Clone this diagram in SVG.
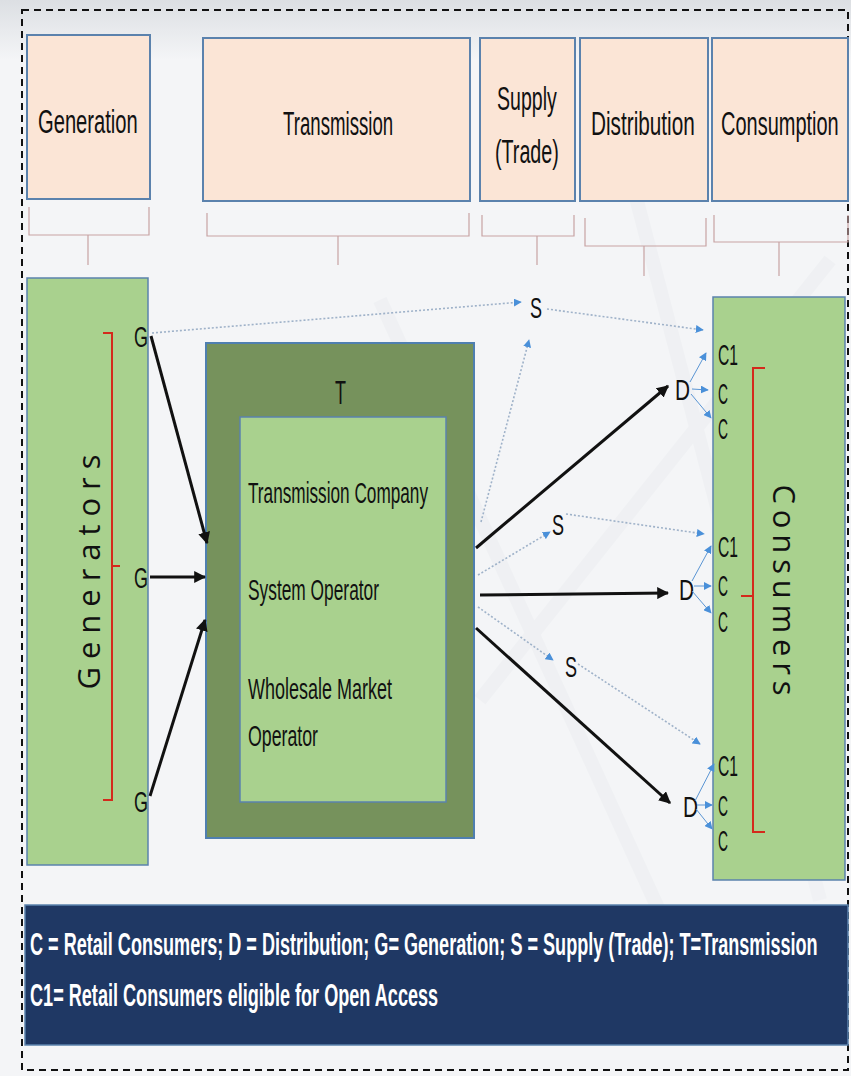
<svg xmlns="http://www.w3.org/2000/svg" width="851" height="1076" viewBox="0 0 851 1076">
<defs>
<marker id="ab" viewBox="0 0 10 10" refX="9" refY="5" markerWidth="4" markerHeight="4" orient="auto" markerUnits="strokeWidth"><path d="M0,0 L10,5 L0,10 z" fill="#111"/></marker>
<marker id="au" viewBox="0 0 10 10" refX="9" refY="5" markerWidth="8" markerHeight="8" orient="auto" markerUnits="userSpaceOnUse"><path d="M0,0 L10,5 L0,10 z" fill="#4a90d9"/></marker>
<linearGradient id="topsh" x1="0" y1="0" x2="0" y2="1"><stop offset="0" stop-color="#dcdfe3"/><stop offset="1" stop-color="#f4f5f7"/></linearGradient>
</defs>
<style>
.hdr{fill:#fbe5d6;stroke:#5b82ad;stroke-width:2}
.grn{fill:#a9d18e;stroke:#5b82ad;stroke-width:1.5}
.dk{fill:#76925c;stroke:#4f7fb0;stroke-width:2}
.brk{fill:none;stroke:#c7a3a3;stroke-width:1.2}
.red{fill:none;stroke:#d42a1c;stroke-width:2}
.t{font-family:"Liberation Sans",Arial,sans-serif;fill:#111}
.h{font-size:34px}
.lbl{font-size:30px}
.blk{fill:none;stroke:#111;stroke-width:3;marker-end:url(#ab)}
.dot{fill:none;stroke:#9fb2c9;stroke-width:1.6;stroke-dasharray:2 2;marker-end:url(#au)}
.thin{fill:none;stroke:#5a95d4;stroke-width:1;marker-end:url(#au)}
.leg{font-family:"Liberation Sans",Arial,sans-serif;font-weight:bold;fill:#fff;font-size:32px}
</style>
<rect width="851" height="1076" fill="#f4f5f7"/>
<rect x="0" y="0" width="851" height="60" fill="url(#topsh)"/>
<g stroke="#eceef1" stroke-width="14" fill="none" opacity="0.6">
<path d="M600,60 L820,900"/><path d="M380,300 L700,1000"/><path d="M480,700 L830,260"/>
</g>
<rect x="22" y="10" width="826" height="1060" fill="none" stroke="#111" stroke-width="2" stroke-dasharray="7 5"/>

<g id="hdr-generation"><rect class="hdr" x="27" y="35" width="123" height="164"/><text class="t h" transform="translate(38,133) scale(0.58,1)" textLength="172" lengthAdjust="spacingAndGlyphs">Generation</text></g>
<g id="hdr-transmission"><rect class="hdr" x="203" y="38" width="267" height="163"/><text class="t h" transform="translate(283,135) scale(0.58,1)" textLength="190" lengthAdjust="spacingAndGlyphs">Transmission</text></g>
<g id="hdr-supply"><rect class="hdr" x="480" y="38" width="95" height="163"/><text class="t h" transform="translate(497,110) scale(0.58,1)" textLength="103" lengthAdjust="spacingAndGlyphs">Supply</text><text class="t h" transform="translate(495,163) scale(0.58,1)" textLength="110" lengthAdjust="spacingAndGlyphs">(Trade)</text></g>
<g id="hdr-distribution"><rect class="hdr" x="580" y="38" width="128" height="163"/><text class="t h" transform="translate(591,135) scale(0.58,1)" textLength="179" lengthAdjust="spacingAndGlyphs">Distribution</text></g>
<g id="hdr-consumption"><rect class="hdr" x="712" y="38" width="136" height="163"/><text class="t h" transform="translate(721,135) scale(0.58,1)" textLength="203" lengthAdjust="spacingAndGlyphs">Consumption</text></g>

<g id="brackets">
<path class="brk" d="M29,207 V235 H149 V207 M88,235 V265"/>
<path class="brk" d="M207,213 V236 H469 V213 M338,236 V265"/>
<path class="brk" d="M482,215 V236 H574 V215 M537,236 V265"/>
<path class="brk" d="M585,218 V246 H706 V218 M644,246 V276" stroke="#c08c8c"/>
<path class="brk" d="M714,215 V242 H848 V215 M779,242 V276"/>
</g>

<g id="generators"><rect class="grn" x="27" y="278" width="121" height="587"/>
<text transform="translate(100,572) rotate(-90)" text-anchor="middle" font-family="'Open Sans',sans-serif" font-size="31" fill="#111" textLength="235" lengthAdjust="spacing">Generators</text>
<path class="red" d="M103,333 H112 V800 H103 M112,566 H120"/>
<text class="t lbl" x="134" y="347" textLength="14" lengthAdjust="spacingAndGlyphs">G</text>
<text class="t lbl" x="134" y="588" textLength="14" lengthAdjust="spacingAndGlyphs">G</text>
<text class="t lbl" x="134" y="812" textLength="14" lengthAdjust="spacingAndGlyphs">G</text>
</g>

<g id="transmission"><rect class="dk" x="206" y="343" width="268" height="495"/>
<text class="t" x="335" y="404" font-size="34" textLength="11" lengthAdjust="spacingAndGlyphs">T</text>
<rect class="grn" x="240" y="417" width="206" height="385" stroke="#4f7fb0" stroke-width="2"/>
<text class="t lbl" x="248" y="503" textLength="180" lengthAdjust="spacingAndGlyphs">Transmission Company</text>
<text class="t lbl" x="248" y="600" textLength="131" lengthAdjust="spacingAndGlyphs">System Operator</text>
<text class="t lbl" x="248" y="699" textLength="144" lengthAdjust="spacingAndGlyphs">Wholesale Market</text>
<text class="t lbl" x="248" y="746" textLength="70" lengthAdjust="spacingAndGlyphs">Operator</text>
</g>

<g id="consumers"><rect class="grn" x="713" y="297" width="132" height="583"/>
<text transform="translate(773,590) rotate(90)" text-anchor="middle" font-family="'Open Sans',sans-serif" font-size="31" fill="#111" textLength="211" lengthAdjust="spacing">Consumers</text>
<path class="red" d="M765,368 H753 V832 H765 M753,596 H741"/>
<g class="t lbl">
<text x="718" y="365" textLength="20" lengthAdjust="spacingAndGlyphs">C1</text><text x="718" y="404" textLength="10" lengthAdjust="spacingAndGlyphs">C</text><text x="718" y="439" textLength="10" lengthAdjust="spacingAndGlyphs">C</text>
<text x="718" y="557" textLength="20" lengthAdjust="spacingAndGlyphs">C1</text><text x="718" y="596" textLength="10" lengthAdjust="spacingAndGlyphs">C</text><text x="718" y="632" textLength="10" lengthAdjust="spacingAndGlyphs">C</text>
<text x="718" y="776" textLength="20" lengthAdjust="spacingAndGlyphs">C1</text><text x="718" y="816" textLength="10" lengthAdjust="spacingAndGlyphs">C</text><text x="718" y="851" textLength="10" lengthAdjust="spacingAndGlyphs">C</text>
</g>
</g>

<g id="nodes-ds" class="t lbl">
<text x="675" y="400" textLength="15" lengthAdjust="spacingAndGlyphs">D</text><text x="679" y="600" textLength="15" lengthAdjust="spacingAndGlyphs">D</text><text x="683" y="817" textLength="15" lengthAdjust="spacingAndGlyphs">D</text>
<text x="530" y="318" textLength="12" lengthAdjust="spacingAndGlyphs">S</text><text x="552" y="535" textLength="12" lengthAdjust="spacingAndGlyphs">S</text><text x="565" y="677" textLength="12" lengthAdjust="spacingAndGlyphs">S</text>
</g>

<g id="connectors">
<path class="blk" d="M151,336 L207,543"/>
<path class="blk" d="M150,577 L205,577"/>
<path class="blk" d="M150,796 L205,620"/>
<path class="blk" d="M476,548 L668,386"/>
<path class="blk" d="M480,595 L668,593"/>
<path class="blk" d="M476,628 L670,803"/>
<path class="dot" d="M152,333 L521,302"/>
<path class="dot" d="M547,309 L703,330"/>
<path class="dot" d="M481,522 L529,340" stroke-dasharray="3 2"/>
<path class="dot" d="M478,575 L550,532"/>
<path class="dot" d="M566,514 L704,534"/>
<path class="dot" d="M478,607 L553,660"/>
<path class="dot" d="M578,664 L700,744"/>
<path class="thin" d="M690,382 L706,353"/><path class="thin" d="M692,389 L708,390"/><path class="thin" d="M691,394 L711,418"/>
<path class="thin" d="M692,581 L711,546"/><path class="thin" d="M694,586 L711,586"/><path class="thin" d="M692,591 L711,613"/>
<path class="thin" d="M695,801 L714,764"/><path class="thin" d="M697,805 L712,805"/><path class="thin" d="M696,809 L712,829"/>
</g>

<g id="legend"><rect x="25" y="905" width="823" height="140" fill="#1f3864" stroke="#5b82ad" stroke-width="1.5"/>
<text class="leg" transform="translate(30,955) scale(0.563,1)" textLength="1399" lengthAdjust="spacingAndGlyphs">C = Retail Consumers; D = Distribution; G= Generation; S = Supply (Trade); T=Transmission</text>
<text class="leg" transform="translate(30,1006) scale(0.563,1)" textLength="725" lengthAdjust="spacingAndGlyphs">C1= Retail Consumers eligible for Open Access</text>
</g>
</svg>
